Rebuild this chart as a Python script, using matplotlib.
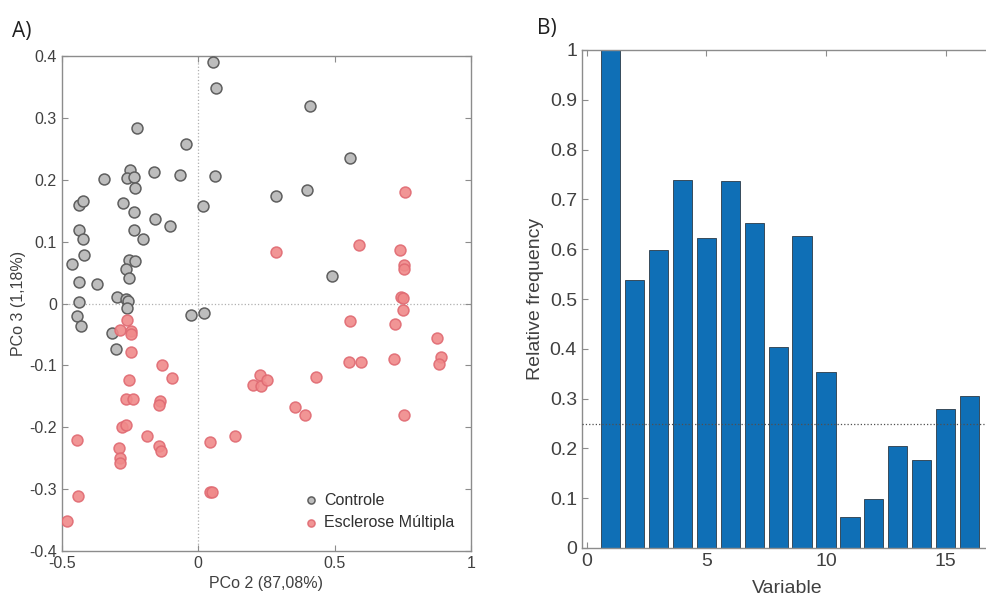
import matplotlib
matplotlib.use('Agg')
import matplotlib.pyplot as plt
import numpy as np

plt.rcParams['font.family'] = ['Liberation Sans', 'DejaVu Sans']

#%% data: PCoA scores (panel A)
ctrl_x = [0.054, 0.065, 0.408, -0.226, -0.045, -0.345, -0.25, -0.262, -0.234, -0.232,
          -0.161, -0.068, 0.061, 0.287, 0.399, 0.558, -0.437, -0.423, -0.277, 0.018,
          -0.234, -0.159, -0.105, -0.437, -0.421, -0.234, -0.201, -0.419, -0.464, -0.255,
          -0.231, -0.437, -0.372, -0.266, -0.255, 0.489, -0.437, -0.446, -0.43, -0.299,
          -0.265, -0.256, -0.262, -0.317, -0.302, -0.027, 0.023]
ctrl_y = [0.39, 0.348, 0.32, 0.284, 0.258, 0.201, 0.215, 0.203, 0.204, 0.187,
          0.212, 0.208, 0.206, 0.174, 0.184, 0.235, 0.16, 0.165, 0.162, 0.157,
          0.148, 0.136, 0.126, 0.119, 0.105, 0.118, 0.105, 0.078, 0.064, 0.07,
          0.069, 0.035, 0.031, 0.055, 0.042, 0.045, 0.003, -0.020, -0.036, 0.011,
          0.008, 0.004, -0.007, -0.047, -0.074, -0.019, -0.016]

em_x = [0.287, 0.758, 0.591, 0.739, 0.753, 0.756, 0.742, 0.749, 0.752, 0.558,
        0.723, 0.877, 0.889, 0.884, 0.553, 0.596, 0.718, 0.431, 0.354, 0.392,
        0.756, 0.201, 0.228, 0.232, 0.252, 0.136, 0.044, 0.043, 0.049, -0.261,
        -0.287, -0.245, -0.247, -0.245, -0.134, -0.097, -0.254, -0.263, -0.238, -0.140,
        -0.145, -0.278, -0.266, -0.189, -0.144, -0.138, -0.290, -0.287, -0.287, -0.443,
        -0.441, -0.482]
em_y = [0.084, 0.18, 0.095, 0.087, 0.062, 0.055, 0.010, 0.009, -0.010, -0.029,
        -0.033, -0.055, -0.087, -0.098, -0.094, -0.094, -0.090, -0.118, -0.168, -0.180,
        -0.180, -0.132, -0.116, -0.134, -0.123, -0.214, -0.224, -0.305, -0.304, -0.027,
        -0.043, -0.045, -0.050, -0.078, -0.100, -0.121, -0.124, -0.155, -0.155, -0.157,
        -0.164, -0.199, -0.197, -0.214, -0.230, -0.239, -0.233, -0.250, -0.257, -0.221,
        -0.311, -0.351]

#%% data: relative frequency (panel B)
variables = np.arange(1, 17)
rel_freq = [1.0, 0.538, 0.598, 0.739, 0.623, 0.737, 0.653, 0.404,
            0.626, 0.353, 0.062, 0.098, 0.205, 0.176, 0.279, 0.305]
threshold = 0.25

#%%
W, H = 987, 598
fig = plt.figure(figsize=(W / 100, H / 100), dpi=100)

spine_col = '#8c8c8c'
text_col = '#404040'

def style_axes(ax, size):
    for s in ax.spines.values():
        s.set_color(spine_col)
        s.set_linewidth(1.0)
    ax.tick_params(direction='in', length=4, width=0.8, color=spine_col,
                   labelcolor=text_col, labelsize=size, top=True, right=True)

# panel A
axA = fig.add_axes([61.8 / W, 1 - 551 / H, (471 - 61.8) / W, (551 - 56) / H])
axA.axvline(0, color='#b0b0b0', ls=':', lw=0.9, zorder=1)
axA.axhline(0, color='#b0b0b0', ls=':', lw=0.9, zorder=1)
axA.scatter(ctrl_x, ctrl_y, s=62, facecolor='#bdbdbd', edgecolor='#5e5e5e',
            linewidths=1.1, label='Controle', zorder=3)
axA.scatter(em_x, em_y, s=62, facecolor='#f08a8a', edgecolor='#e06a72',
            linewidths=1.1, alpha=0.9, label='Esclerose Múltipla', zorder=4)
axA.set_xlim(-0.5, 1)
axA.set_ylim(-0.4, 0.4)
axA.set_xticks([-0.5, 0, 0.5, 1])
axA.set_xticklabels(['-0.5', '0', '0.5', '1'])
axA.set_yticks(np.round(np.arange(-0.4, 0.41, 0.1), 1))
axA.set_yticklabels(['-0.4', '-0.3', '-0.2', '-0.1', '0', '0.1', '0.2', '0.3', '0.4'])
style_axes(axA, 11.5)
axA.set_xlabel('PCo 2 (87,08%)', fontsize=11.5, color=text_col, labelpad=4)
axA.set_ylabel('PCo 3 (1,18%)', fontsize=11.5, color=text_col, labelpad=2)
leg = axA.legend(loc='lower right', frameon=False, fontsize=11.5, markerscale=0.65,
                 handletextpad=0.2, borderaxespad=0.0, labelspacing=0.45,
                 handlelength=1.2, bbox_to_anchor=(0.975, 0.03))
for t in leg.get_texts():
    t.set_color('#303030')

# panel B
bx0 = 586.6 - 0.2 * 23.94
axB = fig.add_axes([bx0 / W, 1 - 548 / H, 17.2 * 23.94 / W, 498 / H])
axB.bar(variables, rel_freq, width=0.8, color='#0f6fb6', edgecolor='#2b3a48',
        linewidth=0.6, zorder=2)
axB.axhline(threshold, color='#505050', ls=':', lw=0.9, zorder=3)
axB.set_xlim(-0.2, 17)
axB.set_ylim(0, 1)
axB.set_xticks([0, 5, 10, 15])
axB.set_yticks(np.round(np.arange(0, 1.01, 0.1), 1))
axB.set_yticklabels(['0', '0.1', '0.2', '0.3', '0.4', '0.5', '0.6', '0.7', '0.8', '0.9', '1'])
style_axes(axB, 14)
axB.set_xlabel('Variable', fontsize=14, color=text_col, labelpad=7)
axB.set_ylabel('Relative frequency', fontsize=14, color=text_col, labelpad=4)

fig.text(12 / W, 1 - 37 / H, 'A)', fontsize=15, family='Open Sans', color='#202020')
fig.text(537 / W, 1 - 34 / H, 'B)', fontsize=15, family='Open Sans', color='#202020')

fig.savefig('out.png', dpi=100)
